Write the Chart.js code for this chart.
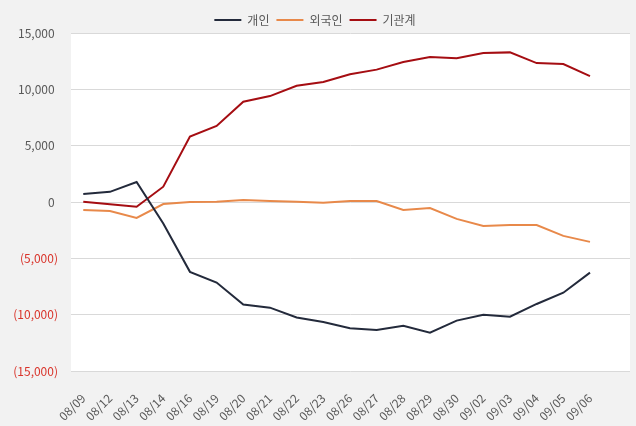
<!DOCTYPE html>
<html>
<head>
<meta charset="utf-8">
<script src="https://cdn.jsdelivr.net/npm/chart.js@4.4.1/dist/chart.umd.min.js"></script>
<style>
  body { margin: 0; background: #f2f2f2; }
  canvas { display: block; }
</style>
</head>
<body>
<canvas id="flowChart" width="636" height="426"></canvas>
<script>
// trading dates
var dates = ["08/09","08/12","08/13","08/14","08/16","08/19","08/20","08/21","08/22","08/23",
             "08/26","08/27","08/28","08/29","08/30","09/02","09/03","09/04","09/05","09/06"];

// cumulative net buying per investor group
var retail = [700, 900, 1780, -1900, -6200, -7150, -9100, -9380, -10250, -10650,
              -11200, -11350, -10980, -11600, -10530, -10000, -10180, -9050, -8050, -6270];
var foreign = [-710, -800, -1420, -180, 0, 30, 180, 90, 30, -60,
               90, 90, -710, -530, -1500, -2120, -2040, -2040, -3010, -3540];
var institution = [30, -200, -420, 1360, 5800, 6750, 8900, 9400, 10320, 10650,
                   11340, 11750, 12420, 12860, 12770, 13220, 13280, 12330, 12240, 11180];

var seriesNames = ["개인", "외국인", "기관계"];
var seriesColors = ["#232a3b", "#e8894a", "#a50d12"];

var yTicks = [-15000, -10000, -5000, 0, 5000, 10000, 15000];

function toPoints(arr){
    return arr.map(function(v, i){ return {x: i, y: v}; });
}

// excel style: negatives in brackets, positives keep room for the bracket
function fmt(v){
    var s = Math.abs(v).toLocaleString("en-US");
    return v < 0 ? "(" + s + ")" : s + "\u2008";
}

var plotBg = {
    id: "plotBg",
    beforeDraw: function(chart){
        var a = chart.chartArea;
        var ctx = chart.ctx;
        ctx.save();
        ctx.fillStyle = "#ffffff";
        ctx.fillRect(a.left, a.top, a.right - a.left, a.bottom - a.top);
        ctx.restore();
    }
};

var font = "'Noto Sans CJK KR', 'Noto Sans', sans-serif";

var allSeries = [retail, foreign, institution];
var datasets = allSeries.map(function(arr, k){
    return {
        label: seriesNames[k],
        data: toPoints(arr),
        borderColor: seriesColors[k],
        backgroundColor: seriesColors[k],
        borderWidth: 2,
        pointRadius: 0,
        tension: 0
    };
});

var chart = new Chart(document.getElementById("flowChart").getContext("2d"), {
    type: "line",
    data: { datasets: datasets },
    options: {
        responsive: false,
        animation: false,
        layout: { padding: { top: 7, right: 6, left: 0, bottom: 0 } },
        plugins: {
            legend: {
                position: "top",
                maxHeight: 26,
                labels: {
                    usePointStyle: true,
                    pointStyle: "line",
                    pointStyleWidth: 27,
                    boxHeight: 12,
                    padding: 7,
                    color: "#595959",
                    font: { family: font, size: 12 }
                }
            },
            tooltip: { enabled: false }
        },
        scales: {
            x: {
                type: "linear",
                min: -0.46,
                max: 20.5,
                grid: { display: false, drawTicks: false },
                border: { display: false },
                afterBuildTicks: function(scale){
                    scale.ticks = dates.map(function(d, i){ return {value: i}; });
                },
                afterFit: function(scale){ scale.height = 55; },
                ticks: {
                    autoSkip: false,
                    minRotation: 45,
                    maxRotation: 45,
                    padding: 20,
                    color: "#595959",
                    font: { family: font, size: 12 },
                    callback: function(v){ return dates[v] || ""; }
                }
            },
            y: {
                min: -15000,
                max: 15000,
                afterBuildTicks: function(scale){
                    scale.ticks = yTicks.map(function(v){ return {value: v}; });
                },
                afterFit: function(scale){ scale.width = 71; },
                grid: { color: "#d9d9d9", drawTicks: false },
                border: { display: false },
                ticks: {
                    padding: 13,
                    font: { family: font, size: 12 },
                    color: function(ctx){ return ctx.tick && ctx.tick.value < 0 ? "#d9342b" : "#595959"; },
                    callback: function(v){ return fmt(v); }
                }
            }
        }
    },
    plugins: [plotBg]
});
</script>
</body>
</html>
